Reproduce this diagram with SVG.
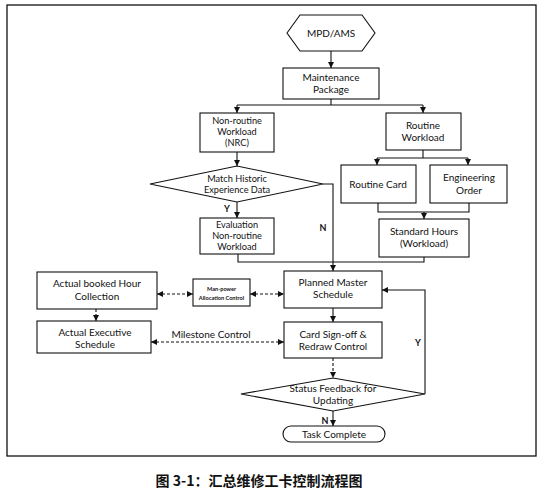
<svg xmlns="http://www.w3.org/2000/svg" width="545" height="499" viewBox="0 0 545 499">
<style>
.box{fill:#fff;stroke:#111;stroke-width:1.1}
.t{font-family:Lato,"Liberation Sans",sans-serif;font-size:10px;fill:#111;text-anchor:middle}
.m{font-size:9.2px}
.s{font-size:5.6px;font-weight:bold}
.l{font-family:Lato,"Liberation Sans",sans-serif;font-size:9px;font-weight:bold;fill:#111;text-anchor:middle}
.c{fill:none;stroke:#111;stroke-width:1.1}
.d{fill:none;stroke:#111;stroke-width:1.1;stroke-dasharray:3 2}
.cap{font-family:"Noto Sans CJK SC",sans-serif;font-size:14px;font-weight:bold;fill:#111;text-anchor:middle}
</style>
<defs>
<marker id="a" viewBox="0 0 10 10" refX="10" refY="5" markerWidth="6" markerHeight="6" markerUnits="userSpaceOnUse" orient="auto-start-reverse">
<path d="M0,0 L10,5 L0,10 z" fill="#111"/>
</marker>
</defs>
<rect x="7" y="5" width="529" height="451" fill="#fff" stroke="#111" stroke-width="1.3"/>
<g id="connectors">
<path class="c" d="M331,51 V68" marker-end="url(#a)"/>
<path class="c" d="M331,99 V105 M237,105 H423"/>
<path class="c" d="M237,105 V113" marker-end="url(#a)"/>
<path class="c" d="M423,105 V113" marker-end="url(#a)"/>
<path class="c" d="M237,152 V166" marker-end="url(#a)"/>
<path class="c" d="M323,184 H333 V271" marker-end="url(#a)"/>
<path class="c" d="M237,202 V218" marker-end="url(#a)"/>
<path class="c" d="M238,254 V262 H424 V257"/>
<path class="c" d="M423,150 V158 M377,158 H468"/>
<path class="c" d="M377,158 V165" marker-end="url(#a)"/>
<path class="c" d="M468,158 V165" marker-end="url(#a)"/>
<path class="c" d="M378,203 V212 H469 V203"/>
<path class="c" d="M424,212 V219" marker-end="url(#a)"/>
<path class="c" d="M333,308 V322" marker-end="url(#a)"/>
<path class="d" d="M157,294 H193" marker-start="url(#a)" marker-end="url(#a)"/>
<path class="d" d="M250,294 H284" marker-start="url(#a)" marker-end="url(#a)"/>
<path class="d" d="M96,309 V321" marker-end="url(#a)"/>
<path class="d" d="M151,342 H284" marker-start="url(#a)" marker-end="url(#a)"/>
<path class="d" d="M333,358 V378" marker-end="url(#a)"/>
<path class="c" d="M425,394 V290 H382" marker-end="url(#a)"/>
<path class="c" d="M333,411 V426" marker-end="url(#a)"/>
<text class="l" x="227" y="212">Y</text>
<text class="l" x="323" y="231">N</text>
<text class="l" x="418" y="346">Y</text>
<text class="l" x="325" y="424">N</text>
<text class="t" x="211" y="338">Milestone Control</text>
</g>
<g id="mpd">
<polygon class="box" points="287,33 300,15 362,15 375,33 362,51 300,51"/>
<text class="t" x="331" y="37">MPD/AMS</text>
</g>
<g id="maint">
<rect class="box" x="283" y="68" width="96" height="31"/>
<text class="t" x="331" y="81">Maintenance</text>
<text class="t" x="331" y="93">Package</text>
</g>
<g id="nrc">
<rect class="box" x="200" y="113" width="74" height="39"/>
<text class="t m" x="237" y="124">Non-routine</text>
<text class="t m" x="237" y="135">Workload</text>
<text class="t m" x="237" y="146">(NRC)</text>
</g>
<g id="routine">
<rect class="box" x="386" y="113" width="75" height="37"/>
<text class="t" x="423" y="129">Routine</text>
<text class="t" x="423" y="141">Workload</text>
</g>
<g id="match">
<polygon class="box" points="150,184 237,166 323,184 237,202"/>
<text class="t m" x="237" y="182">Match Historic</text>
<text class="t m" x="237" y="193">Experience Data</text>
</g>
<g id="eval">
<rect class="box" x="200" y="218" width="74" height="36"/>
<text class="t m" x="237" y="228">Evaluation</text>
<text class="t m" x="237" y="239">Non-routine</text>
<text class="t m" x="237" y="250">Workload</text>
</g>
<g id="card">
<rect class="box" x="341" y="165" width="75" height="38"/>
<text class="t" x="378" y="188">Routine Card</text>
</g>
<g id="eo">
<rect class="box" x="430" y="165" width="77" height="38"/>
<text class="t" x="469" y="181">Engineering</text>
<text class="t" x="469" y="194">Order</text>
</g>
<g id="std">
<rect class="box" x="379" y="219" width="90" height="38"/>
<text class="t" x="424" y="235">Standard Hours</text>
<text class="t" x="424" y="247">(Workload)</text>
</g>
<g id="planned">
<rect class="box" x="284" y="271" width="98" height="37"/>
<text class="t" x="333" y="286">Planned Master</text>
<text class="t" x="333" y="298">Schedule</text>
</g>
<g id="booked">
<rect class="box" x="37" y="272" width="120" height="37"/>
<text class="t" x="97" y="287">Actual booked Hour</text>
<text class="t" x="97" y="300">Collection</text>
</g>
<g id="manpower">
<rect class="box" x="193" y="279" width="57" height="27"/>
<text class="t s" x="221.5" y="291">Man-power</text>
<text class="t s" x="221.5" y="300">Allocation Control</text>
</g>
<g id="exec">
<rect class="box" x="37" y="321" width="114" height="32"/>
<text class="t" x="95" y="336">Actual Executive</text>
<text class="t" x="95" y="348">Schedule</text>
</g>
<g id="signoff">
<rect class="box" x="284" y="322" width="98" height="36"/>
<text class="t" x="333" y="338">Card Sign-off &amp;</text>
<text class="t" x="333" y="350">Redraw Control</text>
</g>
<g id="status">
<polygon class="box" points="241,394 333,378 425,394 333,411"/>
<text class="t" x="333" y="392">Status Feedback for</text>
<text class="t" x="333" y="404">Updating</text>
</g>
<g id="complete">
<rect class="box" x="283" y="426" width="102" height="16" rx="8" ry="8"/>
<text class="t" x="334" y="438">Task Complete</text>
</g>
<text class="cap" x="259" y="486">图 3-1：汇总维修工卡控制流程图</text>
</svg>
